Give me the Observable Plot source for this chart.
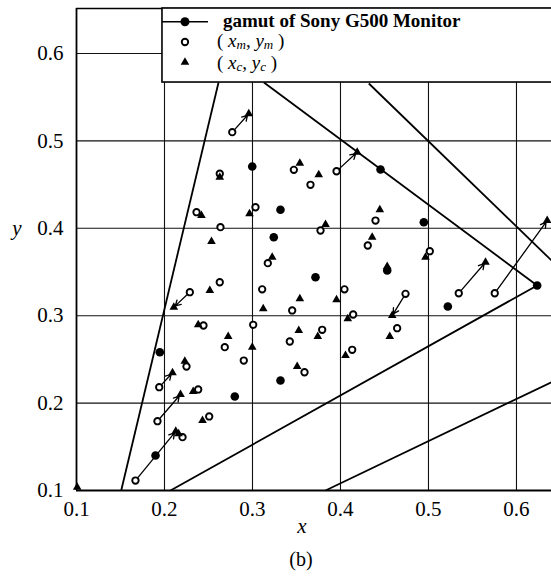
<!DOCTYPE html>
<html><head><meta charset="utf-8">
<script src="https://cdn.jsdelivr.net/npm/d3@7"></script>
<script src="https://cdn.jsdelivr.net/npm/@observablehq/plot@0.6"></script>
<style>html,body{margin:0;padding:0;background:#fff}</style>
</head><body><div id="chart"></div>
<script>
// ---- data ----
const xTicks = [0.1, 0.2, 0.3, 0.4, 0.5, 0.6];
const yTicks = [0.1, 0.2, 0.3, 0.4, 0.5, 0.6];
const xGrid = [0.2, 0.3, 0.4, 0.5, 0.6];
const yGrid = [0.2, 0.3, 0.4, 0.5, 0.6];

// gamut of Sony G500 Monitor (filled circles)
const gamutX = [0.1947, 0.1898, 0.2799, 0.2997, 0.4455, 0.3318, 0.3242, 0.3716, 0.4531, 0.3318, 0.4947, 0.522, 0.6235];
const gamutY = [0.2582, 0.140, 0.2076, 0.4707, 0.4673, 0.4212, 0.3898, 0.344, 0.3517, 0.2259, 0.407, 0.3105, 0.3346];

// (x_m, y_m) open circles
const measX = [0.277, 0.2628, 0.2364, 0.2636, 0.2628, 0.2288, 0.2443, 0.2685, 0.225, 0.194, 0.2383, 0.192, 0.2508, 0.2205, 0.167,
  0.347, 0.3659, 0.3955, 0.3034, 0.3773, 0.4398, 0.431, 0.3174, 0.311, 0.4045, 0.3451, 0.4144, 0.4739, 0.4644, 0.3008, 0.3424,
  0.3792, 0.2901, 0.3591, 0.4133, 0.5344, 0.5753, 0.5015];
const measY = [0.510, 0.4624, 0.4184, 0.4013, 0.3383, 0.3269, 0.2888, 0.264, 0.2419, 0.2182, 0.2156, 0.1793, 0.1847, 0.161, 0.1114,
  0.4669, 0.4498, 0.4653, 0.4241, 0.3975, 0.4089, 0.3803, 0.3601, 0.3302, 0.3302, 0.306, 0.3014, 0.325, 0.2857, 0.2896, 0.2705,
  0.2839, 0.2487, 0.2353, 0.261, 0.3257, 0.3257, 0.3738];

// (x_c, y_c) triangles
const compX = [0.2958, 0.2628, 0.242, 0.2534, 0.2515, 0.2106, 0.2383, 0.2724, 0.2231, 0.2091, 0.2326, 0.2182, 0.2432, 0.2128, 0.216,
  0.3538, 0.3753, 0.419, 0.2966, 0.383, 0.4447, 0.436, 0.3224, 0.3538, 0.3955, 0.3122, 0.4083, 0.4588, 0.456, 0.2997, 0.3526,
  0.3742, 0.3508, 0.4057, 0.5648, 0.6349, 0.4966, 0.4531, 0.1008];
const compY = [0.531, 0.4585, 0.4146, 0.3849, 0.3288, 0.3097, 0.2896, 0.2762, 0.2479, 0.2347, 0.2133, 0.2098, 0.1801, 0.1678, 0.165,
  0.4745, 0.4612, 0.4871, 0.4166, 0.4043, 0.4212, 0.3898, 0.3669, 0.3193, 0.3182, 0.3079, 0.2964, 0.3002, 0.2762, 0.264, 0.2831,
  0.2762, 0.2419, 0.2545, 0.3612, 0.4089, 0.3669, 0.3563, 0.1038];

// arrows from (x_m, y_m) to (x_c, y_c)
const arrowX1 = [0.277, 0.3955, 0.2288, 0.194, 0.192, 0.167, 0.4739, 0.5344, 0.5753];
const arrowY1 = [0.510, 0.4653, 0.3269, 0.2182, 0.1793, 0.1114, 0.325, 0.3257, 0.3257];
const arrowX2 = [0.2958, 0.419, 0.2106, 0.2091, 0.2182, 0.2128, 0.4588, 0.5648, 0.6349];
const arrowY2 = [0.531, 0.4871, 0.3097, 0.2347, 0.2098, 0.1678, 0.3002, 0.3612, 0.4089];

// straight reference lines
const lineX1 = [0.1508, 0.6235, 0.4322, 0.2068, 0.383];
const lineY1 = [0.100, 0.3346, 0.5657, 0.100, 0.100];
const lineX2 = [0.2614, 0.313, 0.6398, 0.6235, 0.6398];
const lineY2 = [0.5668, 0.5668, 0.3632, 0.3346, 0.2239];

const xMax = 0.6398, yMax = 0.6515;
const legendTop = 0.5668;

// ---- tables built from arrays ----
const gamut = gamutX.map((x, i) => ({x, y: gamutY[i]}));
const meas = measX.map((x, i) => ({x, y: measY[i]}));
const comp = compX.map((x, i) => ({x, y: compY[i]}));
const arrows = arrowX1.map((x1, i) => ({x1, y1: arrowY1[i], x2: arrowX2[i], y2: arrowY2[i]}));
const lines = lineX1.map((x1, i) => ({x1, y1: lineY1[i], x2: lineX2[i], y2: lineY2[i]}));

const W = 551, H = 576;
const FONT = "'Liberation Serif', 'Times New Roman', serif";

const plot = Plot.plot({
  width: W, height: H,
  marginLeft: 76, marginRight: 0, marginTop: 8, marginBottom: 86,
  style: {fontFamily: FONT, fontSize: "21px", color: "#000", background: "#fff", overflow: "hidden"},
  x: {domain: [0.1, xMax], ticks: xTicks, tickFormat: d => d.toFixed(1), tickSize: 0, tickPadding: 11, label: null},
  y: {domain: [0.1, yMax], ticks: yTicks, tickFormat: d => d.toFixed(1), tickSize: 0, tickPadding: 13, label: null},
  marks: [
    Plot.ruleX(xGrid, {stroke: "#111", strokeWidth: 1.1}),
    Plot.ruleY(yGrid, {stroke: "#111", strokeWidth: 1.1}),
    Plot.link(lines, {x1: "x1", y1: "y1", x2: "x2", y2: "y2", stroke: "#000", strokeWidth: 1.8}),
    Plot.arrow(arrows, {x1: "x1", y1: "y1", x2: "x2", y2: "y2", stroke: "#000", strokeWidth: 1.3, headLength: 7, insetStart: 3.5, insetEnd: 2}),
    Plot.dot(gamut, {x: "x", y: "y", r: 4.3, fill: "#000", stroke: "none"}),
    Plot.dot(meas, {x: "x", y: "y", r: 3.2, fill: "#fff", stroke: "#000", strokeWidth: 1.9}),
    Plot.dot(comp, {x: "x", y: "y", symbol: "triangle", r: 3.2, fill: "#000", stroke: "none"}),
    Plot.ruleX([0.1], {stroke: "#000", strokeWidth: 1.8}),
    Plot.ruleY([0.1], {stroke: "#000", strokeWidth: 1.8}),
    Plot.ruleY([yMax], {stroke: "#000", strokeWidth: 1.6})
  ]
});

document.getElementById("chart").appendChild(plot);

// ---- legend, axis labels, caption ----
const sx = plot.scale("x"), sy = plot.scale("y");
const px = v => sx.apply(v), py = v => sy.apply(v);
const svg = d3.select(plot);
const g = svg.append("g").attr("font-family", FONT).attr("fill", "#000").attr("text-anchor", "start");

const lx0 = px(0.1977), ly0 = py(yMax), ly1 = py(legendTop);
g.append("rect").attr("x", lx0).attr("y", ly0).attr("width", W - lx0 + 5).attr("height", ly1 - ly0)
  .attr("fill", "#fff").attr("stroke", "#000").attr("stroke-width", 1.6);

const legendLabels = [
  [["gamut of Sony G500 Monitor", ""]],
  [["( ", ""], ["x", "i"], ["m", "sub"], [", ", ""], ["y", "i"], ["m", "sub"], [" )", ""]],
  [["( ", ""], ["x", "i"], ["c", "sub"], [", ", ""], ["y", "i"], ["c", "sub"], [" )", ""]]
];
const rowY = [ly0 + 13.7, ly0 + 34, ly0 + 54.3];
const textDy = [5.5, 4.5, 6.5];
const symX = lx0 + 23;
// row 1: line + filled circle
g.append("line").attr("x1", lx0).attr("x2", lx0 + 46).attr("y1", rowY[0]).attr("y2", rowY[0]).attr("stroke", "#000").attr("stroke-width", 1.6);
g.append("circle").attr("cx", symX).attr("cy", rowY[0]).attr("r", 4.5).attr("fill", "#000");
// row 2: open circle
g.append("circle").attr("cx", symX).attr("cy", rowY[1]).attr("r", 3.2).attr("fill", "#fff").attr("stroke", "#000").attr("stroke-width", 1.9);
// row 3: triangle
g.append("path").attr("transform", `translate(${symX},${rowY[2]})`).attr("d", d3.symbol(d3.symbolTriangle, Math.PI * 3.2 * 3.2)()).attr("fill", "#000");

legendLabels.forEach((parts, i) => {
  const t = g.append("text").attr("x", i === 0 ? lx0 + 61 : lx0 + 55).attr("y", rowY[i] + textDy[i])
    .attr("text-anchor", "start")
    .attr("font-size", 19).attr("font-weight", i === 0 ? "bold" : "normal")
    .style("white-space", "pre");
  let shifted = false;
  parts.forEach(([s, k]) => {
    const ts = t.append("tspan").text(s);
    if (k === "i") ts.attr("font-style", "italic");
    if (k === "sub") { ts.attr("font-style", "italic").attr("font-size", 13).attr("dy", 2.5); shifted = true; }
    else if (shifted) { ts.attr("dy", -2.5); shifted = false; }
  });
});

// axis titles
g.append("text").attr("x", 302).attr("y", py(0.1) + 43).attr("text-anchor", "middle")
  .attr("font-size", 21).attr("font-style", "italic").text("x");
g.append("text").attr("x", 17).attr("y", py(0.4)).attr("dy", "0.32em").attr("text-anchor", "middle")
  .attr("font-size", 21).attr("font-style", "italic").text("y");
g.append("text").attr("x", 301).attr("y", py(0.1) + 76).attr("text-anchor", "middle")
  .attr("font-size", 20).text("(b)");
</script>
</body></html>
